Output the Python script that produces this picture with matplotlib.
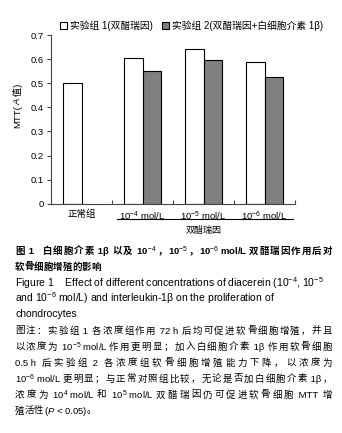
import numpy as np
import matplotlib
matplotlib.use('Agg')
import matplotlib.pyplot as plt

plt.rcParams['font.family'] = ['Liberation Sans', 'Noto Sans CJK SC', 'DejaVu Sans']
plt.rcParams['mathtext.fontset'] = 'custom'
plt.rcParams['mathtext.rm'] = 'Liberation Sans'
plt.rcParams['mathtext.it'] = 'Liberation Sans:italic'

# data
categories = ['正常组', '10$^{-4}$ mol/L', '10$^{-5}$ mol/L', '10$^{-6}$ mol/L']
group1 = [0.50, 0.605, 0.643, 0.587]
group2 = [np.nan, 0.552, 0.595, 0.524]
legend_labels = ['实验组 1(双醋瑞因)', '实验组 2(双醋瑞因+白细胞介素 1β)']
yticks = [0, 0.1, 0.2, 0.3, 0.4, 0.5, 0.6, 0.7]
ytick_labels = ['0', '0.1', '0.2', '0.3', '0.4', '0.5', '0.6', '0.7']

W, H = 342, 433
fig = plt.figure(figsize=(W / 100, H / 100), dpi=100)
ax = fig.add_axes([51 / W, 1 - 203.7 / H, 244 / W, 168.7 / H])

x = np.arange(len(categories))
bw = 0.3
b1 = ax.bar(x - bw / 2, group1, bw, color='white', edgecolor='black', linewidth=0.8)
b2 = ax.bar(x + bw / 2, group2, bw, color='#808080', edgecolor='black', linewidth=0.8)

ax.set_xlim(-0.5, 3.5)
ax.set_ylim(0, 0.7)
ax.set_yticks(yticks)
ax.set_yticklabels(ytick_labels)
ax.set_xticks(x)
ax.set_xticklabels(categories)
ax.set_xticks(np.arange(0.5, 4, 1), minor=True)
ax.tick_params(axis='x', which='major', length=0, pad=4, labelsize=6.8)
ax.tick_params(axis='x', which='minor', length=3, direction='in', width=0.8, color='#444444')
ax.tick_params(axis='y', length=3, width=0.8, pad=2, labelsize=6.8, color='#444444')
for s in ['top', 'right']:
    ax.spines[s].set_visible(False)
for s in ['left', 'bottom']:
    ax.spines[s].set_color('#444444')
    ax.spines[s].set_linewidth(0.8)

# bracket under drug groups
ax.plot([0.58, 3.47], [-0.092, -0.092], color='black', lw=0.8,
        transform=ax.get_xaxis_transform(), clip_on=False)
ax.text(2.0, -0.16, '双醋瑞因', transform=ax.get_xaxis_transform(),
        ha='center', va='center', fontsize=6.5)

ax.legend([b1, b2], legend_labels, ncol=2, frameon=False, fontsize=7,
          loc='center left', bbox_to_anchor=(60 / W, 1 - 26 / H),
          bbox_transform=fig.transFigure, borderpad=0, borderaxespad=0,
          handlelength=0.7, handleheight=0.7, handletextpad=0.35,
          columnspacing=0.9)

renderer = fig.canvas.get_renderer()

# y label built from pieces so the italic A and the CJK glyph both render
ylabel_parts = [('MTT(', 'normal'), ('A', 'italic'), (' 值)', 'normal')]
yy = 128
for txt, style in ylabel_parts:
    t = fig.text(18 / W, 1 - yy / H, txt, rotation=90, rotation_mode='anchor',
                 ha='left', va='center', fontsize=6.8, fontstyle=style)
    yy -= t.get_window_extent(renderer).height


def units(line):
    # split a line into pieces: ascii runs kept together, cjk chars single
    out, cur = [], ''
    for ch in line:
        if ord(ch) < 0x2000 and ch != '，':
            cur += ch
        else:
            if cur:
                out.append(cur)
                cur = ''
            out.append(ch)
    if cur:
        out.append(cur)
    return out


def put_line(line, y, justify, x0=15, x1=332, **kw):
    parts = units(line)
    texts = [fig.text(0, 1 - y / H, p, va='center', ha='left', **kw) for p in parts]
    widths = [t.get_window_extent(renderer).width for t in texts]
    gap = 0
    if justify and len(parts) > 1:
        gap = (x1 - x0 - sum(widths)) / (len(parts) - 1)
    xx = x0
    for t, w in zip(texts, widths):
        t.set_x(xx / W)
        xx += w + gap


caption = [
    ('图 1   白细胞介素 1β 以及 10$^{-4}$，10$^{-5}$，10$^{-6}$ mol/L 双醋瑞因作用后对', True),
    ('软骨细胞增殖的影响', False),
]
for i, (line, j) in enumerate(caption):
    put_line(line, 251 + 16 * i, j, fontsize=6.8, fontweight='bold')

english = [
    'Figure 1    Effect of different concentrations of diacerein (10$^{-4}$, 10$^{-5}$',
    'and 10$^{-6}$ mol/L) and interleukin-1β on the proliferation of',
    'chondrocytes',
]
for i, line in enumerate(english):
    fig.text(15 / W, 1 - (283 + 15.5 * i) / H, line, va='center', ha='left', fontsize=7.45)

note = [
    '图注：实验组 1 各浓度组作用 72 h 后均可促进软骨细胞增殖，并且',
    '以浓度为 10$^{-5}$ mol/L 作用更明显；加入白细胞介素 1β 作用软骨细胞',
    '0.5 h 后实验组 2 各浓度组软骨细胞增殖能力下降，以浓度为',
    '10$^{-6}$ mol/L 更明显；与正常对照组比较，无论是否加白细胞介素 1β，',
    '浓度为 10$^{4}$ mol/L 和 10$^{5}$ mol/L 双醋瑞因仍可促进软骨细胞 MTT 增',
    '殖活性($\\it{P}$ < 0.05)。',
]
for i, line in enumerate(note):
    put_line(line, 331 + 16 * i, i < len(note) - 1, fontsize=6.8)

fig.savefig('out.png', dpi=100)
